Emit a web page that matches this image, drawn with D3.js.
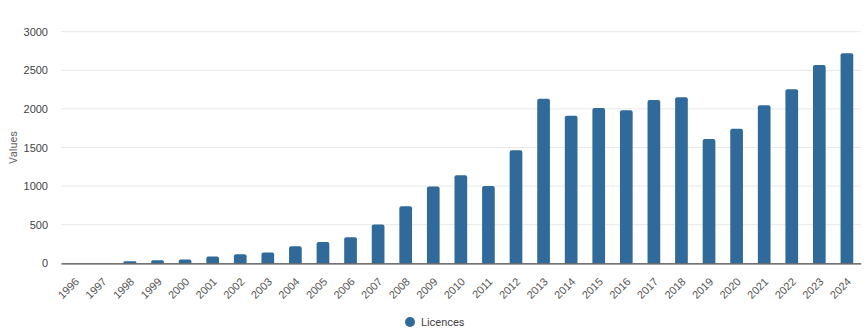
<!DOCTYPE html>
<html>
<head>
<meta charset="utf-8">
<script src="https://cdn.jsdelivr.net/npm/d3@7"></script>
<style>
  html, body { margin: 0; padding: 0; background: #fff; }
  svg { display: block; font-family: Roboto, "Liberation Sans", Arial, sans-serif; }
</style>
</head>
<body>
<svg id="chart" width="864" height="335"></svg>
<script>
const years = ["1996","1997","1998","1999","2000","2001","2002","2003","2004","2005","2006","2007","2008","2009","2010","2011","2012","2013","2014","2015","2016","2017","2018","2019","2020","2021","2022","2023","2024"];
const licences = [2, 2, 26, 39, 48, 87, 117, 139, 221, 277, 338, 502, 740, 995, 1140, 1002, 1465, 2130, 1910, 2012, 1982, 2116, 2150, 1610, 1744, 2047, 2254, 2569, 2720];
const yTicks = [0, 500, 1000, 1500, 2000, 2500, 3000];
const seriesName = "Licences";
const yTitle = "Values";

const color = "#2f6a9a";
const svg = d3.select("#chart");
const left = 61, right = 860.7;
const plotBottom = 263.3, plotTop = 31.7;

const x = d3.scaleBand().domain(years).range([left, right]).paddingInner(0.54).paddingOuter(0.27);
const y = d3.scaleLinear().domain([0, 3000]).range([plotBottom, plotTop]);

// gridlines
svg.append("g").selectAll("line").data(yTicks.filter(d => d > 0)).join("line")
  .attr("x1", left).attr("x2", right)
  .attr("y1", d => y(d)).attr("y2", d => y(d))
  .attr("stroke", "#e8e8e8").attr("stroke-width", 1);

// y axis labels
const yAxis = d3.axisLeft(y).tickValues(yTicks).tickFormat(d3.format("d")).tickSize(0).tickPadding(13);
const gy = svg.append("g").attr("transform", `translate(${left},0)`).call(yAxis);
gy.select(".domain").remove();
gy.selectAll("text").attr("fill", "#444").attr("font-size", "11px");

// y title
svg.append("text").attr("transform", `translate(17,${(plotTop + plotBottom) / 2}) rotate(-90)`)
  .attr("text-anchor", "middle").attr("fill", "#666").attr("font-size", "11px").text(yTitle);

// bars with rounded top corners
const r = 2;
svg.append("g").selectAll("path").data(licences).join("path")
  .attr("fill", color)
  .attr("d", (d, i) => {
    const x0 = x(years[i]), w = x.bandwidth();
    const y0 = y(d), y1 = y(0);
    const rr = Math.min(r, (y1 - y0) / 2, w / 2);
    return `M${x0},${y1}V${y0 + rr}Q${x0},${y0} ${x0 + rr},${y0}H${x0 + w - rr}Q${x0 + w},${y0} ${x0 + w},${y0 + rr}V${y1}Z`;
  });

// x axis
const xAxis = d3.axisBottom(x).tickSize(0).tickPadding(0);
const gx = svg.append("g").attr("transform", `translate(0,${plotBottom})`).call(xAxis);
gx.select(".domain").attr("stroke", "#444").attr("stroke-width", 1.3);
gx.selectAll("text")
  .attr("fill", "#555").attr("font-size", "11px")
  .attr("text-anchor", "end")
  .attr("dy", 0).attr("y", 0)
  .attr("transform", "translate(5,19) rotate(-45)");

// legend
const lg = svg.append("g").attr("transform", "translate(410,322)");
lg.append("circle").attr("r", 5).attr("fill", color);
lg.append("text").attr("x", 11).attr("y", 4).attr("font-size", "11px").attr("fill", "#444").text(seriesName);
</script>
</body>
</html>
